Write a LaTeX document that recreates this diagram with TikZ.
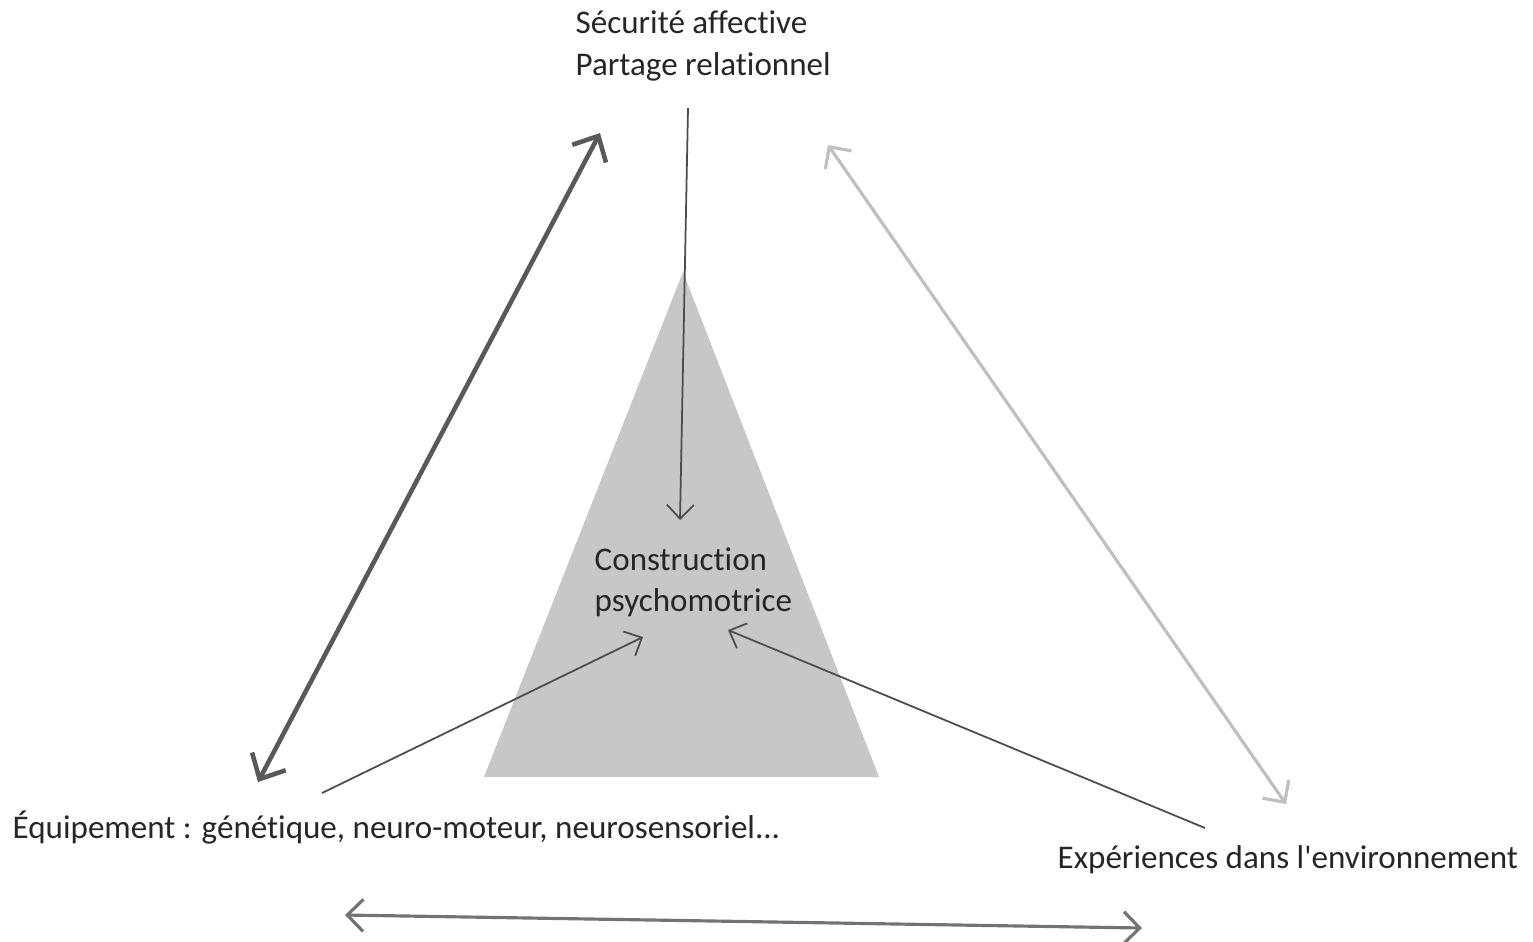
\documentclass[tikz,border=0pt]{standalone}
\usepackage{fontspec}
\setmainfont{Carlito}[Ligatures=NoCommon]
\usetikzlibrary{arrows.meta}

\begin{document}
\begin{tikzpicture}[x=0.01cm,y=-0.01cm,
    lbl/.style = {anchor=west, align=left, inner sep=0pt, text=black!85, font=\fontsize{9.4}{11.7}\selectfont},
    thinarr/.style = {draw=black!70, line width=0.5pt, -{Straight Barb[length=1.4mm,width=2.7mm]}},
    both/.style = {{Straight Barb[length=1.6mm,width=3.2mm]}-{Straight Barb[length=1.6mm,width=3.2mm]}}]
    \useasboundingbox (0,0) rectangle (1533,941);
    % triangle
    \fill[black!22] (683,272) -- (879,777) -- (484,777) -- cycle;
    % texts
    \node[lbl] (top) at (575,46) {Sécurité affective\\Partage relationnel};
    \node[lbl] (mid) at (594,582) {Construction\\psychomotrice};
    \node[lbl] (left) at (12,828) {Équipement : génétique, neuro-moteur, neurosensoriel...};
    \node[lbl] (right) at (1057,860) {Expériences dans l\textquotesingle environnement};
    % arrow ends
    \coordinate (t1) at (688,108);
    \coordinate (t2) at (680,520);
    \coordinate (l1) at (322,793);
    \coordinate (l2) at (643,637);
    \coordinate (r1) at (1205,828);
    \coordinate (r2) at (728,630);
    \coordinate (a1) at (600,133);
    \coordinate (a2) at (258,782);
    \coordinate (b1) at (828,145);
    \coordinate (b2) at (1286,804);
    \coordinate (c1) at (345,915);
    \coordinate (c2) at (1142,928);
    % arrows to the centre
    \draw[thinarr] (t1) -- (t2);
    \draw[thinarr] (l1) -- (l2);
    \draw[thinarr] (r1) -- (r2);
    % arrows between the corners
    \draw[both, draw=black!65, line width=1.3pt, {Straight Barb[length=2mm,width=3.8mm]}-{Straight Barb[length=2mm,width=3.8mm]}] (a1) -- (a2);
    \draw[both, draw=black!25, line width=0.9pt] (b1) -- (b2);
    \draw[both, draw=black!55, line width=0.9pt] (c1) -- (c2);
\end{tikzpicture}
\end{document}
